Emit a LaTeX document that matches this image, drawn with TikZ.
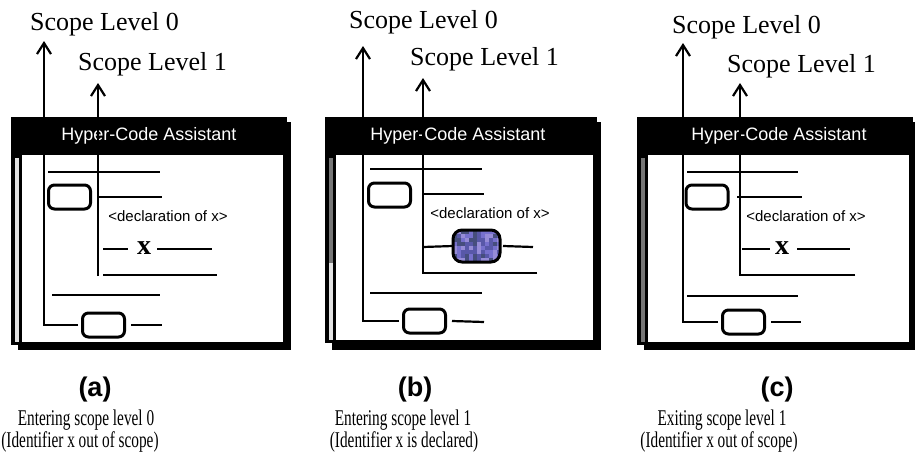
\documentclass[tikz,border=0pt]{standalone}
\usepackage{fontspec}
\setmainfont{Liberation Serif}
\setsansfont{Liberation Sans}
\newfontfamily\capfont[FakeStretch=0.68]{Liberation Serif}
\usetikzlibrary{arrows.meta}
\definecolor{blobc}{RGB}{112,108,200}
\definecolor{blobA}{RGB}{118,112,205}
\definecolor{blobB}{RGB}{88,88,168}
\definecolor{blobC}{RGB}{150,140,215}
\definecolor{blobD}{RGB}{70,78,125}
\definecolor{sbdark}{RGB}{118,118,118}
\definecolor{sblight}{RGB}{226,226,226}
\tikzset{
  ln/.style={line width=2.2pt},
  arr/.style={line width=2.2pt,-{Straight Barb[length=11pt,width=14pt,line width=2.2pt]}},
  pill/.style={draw, line width=3pt, rounded corners=6pt, fill=white, inner sep=0pt, minimum width=42pt, minimum height=24pt},
  blob/.style={draw, line width=3pt, rounded corners=9pt, fill=blobc, inner sep=0pt, minimum width=44pt, minimum height=29pt},
  wtitle/.style={text=white, font=\sffamily\fontsize{18}{20}\selectfont, inner sep=0pt},
  decl/.style={font=\sffamily\fontsize{15}{17}\selectfont, inner sep=0pt},
  xv/.style={font=\bfseries\fontsize{28}{30}\selectfont, inner sep=0pt},
  lvl/.style={font=\fontsize{26}{29}\selectfont, inner sep=0pt, anchor=base west},
  sublab/.style={font=\sffamily\bfseries\fontsize{27}{30}\selectfont, inner sep=0pt, anchor=base},
  captxt/.style={font=\capfont\fontsize{22.5}{24}\selectfont, inner sep=0pt, anchor=base},
}
\begin{document}
\begin{tikzpicture}[x=1pt,y=-1pt]
\useasboundingbox (0,0) rectangle (915,463);

% ================= panel (a) =================
\fill (18,122) rectangle (291,350);
\fill (11,117) rectangle (287,345);
\fill[white] (22,155) rectangle (283,342);
\fill[sblight] (14.5,158) rectangle (19,342);
\node[wtitle] (atitle) at (149,136) {Hyper-Code Assistant};
\node[lvl] (al0) at (30,30) {Scope Level 0};
\node[lvl] (al1) at (78,70) {Scope Level 1};
\coordinate (a0tip) at (44,41);
\coordinate (a1tip) at (98,83);
\coordinate (a1bot) at (98,276);
\draw[ln] (48,172) -- (160,172);
\node[pill] (abox1) at (69.5,197) {};
\draw[ln] (98,197) -- (162,197);
\node[decl] (adecl) at (168,216) {<declaration of x>};
\node[xv] (ax) at (144,248) {x};
\draw[ln] (103,249) -- (128,249);
\draw[ln] (157,249) -- (212,249);
\draw[ln] (103,275) -- (217,275);
\draw[ln] (52,295) -- (160,295);
\node[pill] (abox2) at (103.5,325) {};
\draw[ln] (abox2.east) ++(5,0) -- (162,325);
\draw[arr] ([xshift=-3pt]abox2.west) -| (a0tip);
\draw[arr] (a1bot) -- (a1tip);
\node[sublab] (alab) at (95,396) {(a)};
\node[captxt] (acap1) at (86,425) {Entering scope level 0};
\node[captxt] (acap2) at (80,447) {(Identifier x out of scope)};

% ================= panel (b) =================
\fill (332,122) rectangle (601,350);
\fill (325,117) rectangle (597,343);
\fill[white] (336,155) rectangle (593,340);
\fill[sbdark] (328.5,158) rectangle (333,263);
\fill[sblight] (328.5,263) rectangle (333,340);
\node[wtitle] (btitle) at (458,136) {Hyper-Code Assistant};
\node[lvl] (bl0) at (349,28) {Scope Level 0};
\node[lvl] (bl1) at (410,65) {Scope Level 1};
\coordinate (b0tip) at (363,46);
\coordinate (b1tip) at (423,78);
\draw[ln] (370,169) -- (482,169);
\node[pill] (bbox1) at (389.5,195) {};
\draw[ln] (423,194) -- (484,194);
\node[decl] (bdecl) at (490,213) {<declaration of x>};
\node[blob] (bx) at (476.5,246) {};
\begin{scope}
  \pgfmathsetseed{11}
  \clip[rounded corners=9pt] (bx.south west) rectangle (bx.north east);
  \foreach \i in {0,...,11} {
    \foreach \j in {0,...,7} {
      \pgfmathrandominteger{\rr}{0}{3}
      \ifcase\rr \def\cc{blobA}\or \def\cc{blobB}\or \def\cc{blobC}\or \def\cc{blobD}\fi
      \fill[\cc] ([shift={(\i*4,\j*4)}]bx.north west) rectangle +(4,4);
    }
  }
\end{scope}
\draw[line width=3pt, rounded corners=9pt] (bx.south west) rectangle (bx.north east);
\draw[ln] (423,247) -- (bx.west);
\draw[ln] (bx.east) ++(3,0) -- (533,247);
\draw[ln] (537,273) -- (423,273);
\draw[ln] (370,293) -- (482,293);
\node[pill] (bbox2) at (424.5,321) {};
\draw[ln] (bbox2.east) ++(5,0) -- (484,322);
\draw[arr] ([xshift=-3pt]bbox2.west) -| (b0tip);
\draw[arr] (537,273) -| (b1tip);
\node[sublab] (blab) at (415,396) {(b)};
\node[captxt] (bcap1) at (403,425) {Entering scope level 1};
\node[captxt] (bcap2) at (404,447) {(Identifier x is declared)};

% ================= panel (c) =================
\fill (644,122) rectangle (917,350);
\fill (637,117) rectangle (913,345);
\fill[white] (648,155) rectangle (909,342);
\fill[sbdark] (640.5,158) rectangle (645,342);
\node[wtitle] (ctitle) at (779,136) {Hyper-Code Assistant};
\node[lvl] (cl0) at (672,33) {Scope Level 0};
\node[lvl] (cl1) at (727,72) {Scope Level 1};
\coordinate (c0tip) at (683,43);
\coordinate (c1tip) at (740,83);
\draw[ln] (687,172) -- (798,172);
\node[pill] (cbox1) at (707,197) {};
\draw[ln] (737,197) -- (802,197);
\node[decl] (cdecl) at (806,216) {<declaration of x>};
\node[xv] (cx) at (782,248) {x};
\draw[ln] (742,249) -- (770,249);
\draw[ln] (797,249) -- (850,249);
\draw[ln] (855,275) -- (740,275);
\draw[ln] (687,296) -- (798,296);
\node[pill] (cbox2) at (743.5,322) {};
\draw[ln] (cbox2.east) ++(5,0) -- (801,322);
\draw[arr] ([xshift=-3pt]cbox2.west) -| (c0tip);
\draw[arr] (855,275) -| (c1tip);
\node[sublab] (clab) at (777,396) {(c)};
\node[captxt] (ccap1) at (722,425) {Exiting scope level 1};
\node[captxt] (ccap2) at (719,447) {(Identifier x out of scope)};
\end{tikzpicture}
\end{document}
